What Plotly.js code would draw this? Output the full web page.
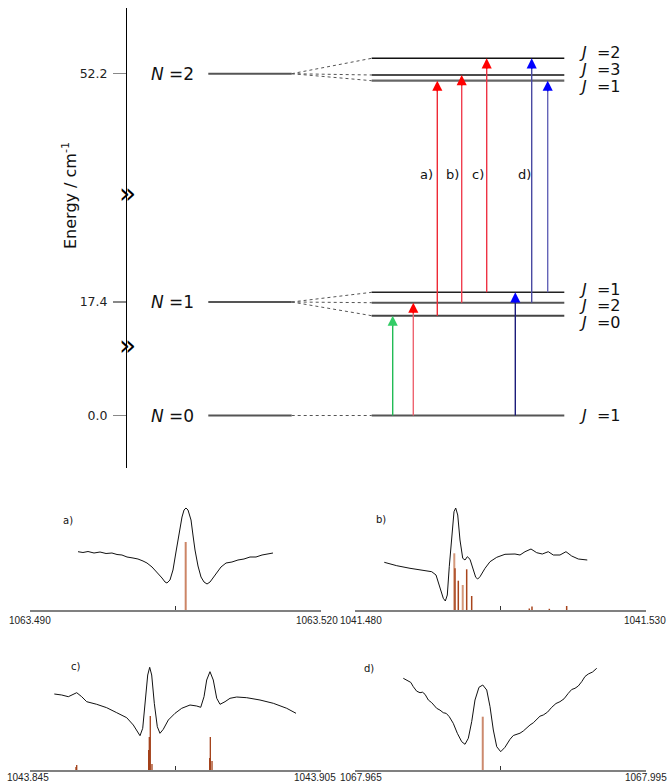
<!DOCTYPE html>
<html><head><meta charset="utf-8">
<script src="https://cdn.plot.ly/plotly-3.0.1.min.js"></script>
<style>html,body{margin:0;padding:0;background:#fff}#chart{width:667px;height:783px}</style>
</head><body><div id="chart"></div>
<script>
// ================= DATA =================
// Rotational levels (energy axis is broken, so levels sit at schematic positions)
const mainN      = [0, 1, 2];
const mainEnergy = [0.0, 17.4, 52.2];          // cm^-1, tick labels
const mainPos    = [0, 113.5, 341.8];          // position on broken axis
// fine-structure sublevels
const subParent  = [2, 2, 2, 1, 1, 1, 0];
const subJ       = [2, 3, 1, 1, 2, 0, 1];
const subPos     = [357.2, 340.5, 334.8, 123.2, 112.8, 99.8, 0];
// transitions (index into sublevels)
const transLower = [6, 6, 6, 5, 4, 3, 4, 3];
const transUpper = [5, 4, 3, 2, 1, 0, 0, 2];
const transLabel = ['', '', '', 'a)', 'b)', 'c)', 'd)', ''];

// Spectra (wavenumber / cm^-1, signal arb.)
const specA_x = [1063.49495,1063.49546,1063.49598,1063.49660,1063.49722,1063.49784,1063.49845,1063.49897,1063.49948,1063.50000,1063.50062,1063.50113,1063.50165,1063.50206,1063.50258,1063.50309,1063.50361,1063.50392,1063.50412,1063.50443,1063.50474,1063.50505,1063.50536,1063.50567,1063.50588,1063.50608,1063.50629,1063.50660,1063.50680,1063.50701,1063.50732,1063.50763,1063.50794,1063.50825,1063.50856,1063.50887,1063.50928,1063.50969,1063.51021,1063.51082,1063.51144,1063.51206,1063.51268,1063.51330,1063.51392,1063.51454,1063.51505];
const specA_y = [58.3,57.5,58.5,57,58,56.5,57,55.5,55,53,52,51,49,47,43,38,32,28,27,30,40,58,78,93,100,102,100,90,75,60,44,33,28,26,28,32,38,43,47,48,50,51,53,53,55,56,57];
const stickA_x = [1063.50605];
const stickA_h = [68];

const specB_x = [1041.48503,1041.48717,1041.48945,1041.49174,1041.49318,1041.49392,1041.49461,1041.49517,1041.49552,1041.49586,1041.49620,1041.49662,1041.49701,1041.49730,1041.49765,1041.49804,1041.49851,1041.49890,1041.49930,1041.49976,1041.50022,1041.50074,1041.50108,1041.50148,1041.50234,1041.50320,1041.50435,1041.50577,1041.50749,1041.50835,1041.50921,1041.51024,1041.51122,1041.51218,1041.51321,1041.51407,1041.51522,1041.51625,1041.51723,1041.51837,1041.51991];
const specB_y = [47.7,44.3,41.7,40,38.3,35,23.3,11.7,9,15,43.3,76.7,98.3,102,95,70,51.7,50,53.3,50.7,41.7,32.7,31,33.3,41.7,48.3,52.7,55.7,56,55,58.3,61,57.3,56,58.3,55,55,58.3,54,51,50];
const stickB_x = [1041.49718,1041.49775,1041.49919,1041.50005,1041.50995,1041.51041,1041.51339,1041.51637];
const stickB_h = [41.7,29.3,40.7,14,1.5,3.5,1.2,4];
const stickB2_x = [1041.49706,1041.49851];
const stickB2_h = [56.7,25];

const specC_x = [1043.85001,1043.85154,1043.85290,1043.85380,1043.85463,1043.85566,1043.85669,1043.85875,1043.86081,1043.86288,1043.86494,1043.86630,1043.86712,1043.86768,1043.86824,1043.86877,1043.86927,1043.86968,1043.87009,1043.87063,1043.87125,1043.87180,1043.87248,1043.87352,1043.87490,1043.87628,1043.87799,1043.87937,1043.88020,1043.88088,1043.88143,1043.88211,1043.88279,1043.88350,1043.88418,1043.88521,1043.88624,1043.88762,1043.88968,1043.89242,1043.89517,1043.89793,1043.89985];
const specC_y = [76,75,73.3,75,77.3,73.3,68.3,65.7,62.3,57.3,52.3,45,38.3,34.3,41.7,70,95,102.7,95,66.7,43.3,36.7,40.7,50,56.7,61.7,65,64,62.7,73.3,90,98.3,90,71.7,65.7,68.3,71.7,73,72.3,70,66.7,61.7,56.7];
const stickC_x = [1043.85448,1043.85463,1043.86947,1043.86960,1043.86980,1043.87015,1043.88205,1043.88218,1043.88253];
const stickC_h = [3,5,20,33,54,6,12,33,9];

const specD_x = [1067.96998,1067.97024,1067.97050,1067.97075,1067.97101,1067.97136,1067.97170,1067.97196,1067.97222,1067.97239,1067.97256,1067.97291,1067.97314,1067.97342,1067.97376,1067.97410,1067.97441,1067.97472,1067.97513,1067.97555,1067.97600,1067.97634,1067.97668,1067.97703,1067.97737,1067.97778,1067.97817,1067.97858,1067.97892,1067.97926,1067.97961,1067.98002,1067.98046,1067.98098,1067.98132,1067.98167,1067.98201,1067.98235,1067.98270,1067.98304,1067.98338,1067.98373,1067.98407,1067.98441,1067.98485,1067.98528,1067.98572,1067.98613,1067.98655,1067.98699,1067.98734,1067.98768,1067.98802,1067.98837,1067.98871,1067.98905,1067.98949,1067.98992];
const specD_y = [91.7,90.2,89.3,87.6,83.3,78.8,77.3,77.8,75.7,72.5,70,67.3,64.8,61.7,59.9,57.3,56.6,53.3,46.7,36.7,28.3,25.7,31.7,48.3,70,82.7,85,80,63.3,40,23.3,18.3,22.7,30.7,34.5,35.7,36.8,39,42.5,45,47.2,50.7,53.8,55,57.9,62.7,66.5,68.3,71.2,76.7,80.5,81.7,84,88.3,93.5,96,98,101.7];
const stickD_x = [1067.97817];
const stickD_h = [53.3];

const rangeA = [1063.490, 1063.520];
const rangeB = [1041.480, 1041.530];
const rangeC = [1043.845, 1043.905];
const rangeD = [1067.965, 1067.995];

// ================= LAYOUT / STYLE =================
const W = 667, H = 783;
const FONT = 'DejaVu Sans';
const mainX = [208.3, 291.7];
const subX = [371.7, 564.3];
const subStyle = [
  {c:'#111', w:1.5}, {c:'#111', w:1.5}, {c:'#666', w:2.2},
  {c:'#222', w:1.5}, {c:'#555', w:2}, {c:'#444', w:2}, {c:'#555', w:2}
];
const subLabelY = [363, 346, 329, 126, 110, 93, 0];
const transX = [392.7, 413.3, 515.3, 437.3, 461.7, 486.7, 531.7, 547.7];
const transLine = ['#22bb55', '#ee6470', '#1c1c7a', '#ee2a35', '#f04050', '#ee3344', '#4a4aa2', '#6565b8'];
const transHead = ['#33cc66', '#ff0000', '#0000ff', '#ff0000', '#ff0000', '#ff0000', '#0000ff', '#0000ff'];
const labelX = {'a)': 426.5, 'b)': 452, 'c)': 477.5, 'd)': 524};
const labelY = 240.5;

const traces = [];
const annotations = [];

// main levels + fan-out
mainN.forEach((n, i) => {
  traces.push({x: mainX, y: [mainPos[i], mainPos[i]], mode: 'lines', line: {color: '#555', width: 2}, xaxis: 'x', yaxis: 'y', hoverinfo: 'skip'});
  annotations.push({x: 172, y: mainPos[i], xref: 'x', yref: 'y', text: '<i>N</i> =' + n, showarrow: false, font: {family: FONT, size: 17, color: '#111'}});
});
subPos.forEach((p, k) => {
  const par = subParent[k];
  traces.push({x: [mainX[1], subX[0]], y: [mainPos[par], p], mode: 'lines', line: {color: '#555', width: 1, dash: 'dot'}, xaxis: 'x', yaxis: 'y', hoverinfo: 'skip'});
  traces.push({x: subX, y: [p, p], mode: 'lines', line: {color: subStyle[k].c, width: subStyle[k].w}, xaxis: 'x', yaxis: 'y', hoverinfo: 'skip'});
  annotations.push({x: 577, y: subLabelY[k], xref: 'x', yref: 'y', xanchor: 'left', text: '<i>J</i>\u00a0\u00a0=' + subJ[k], showarrow: false, font: {family: FONT, size: 16, color: '#111'}});
});
// transitions
transLower.forEach((lo, t) => {
  const y0 = subPos[lo], y1 = subPos[transUpper[t]];
  const x = transX[t];
  traces.push({x: [x, x], y: [y0, y1 - 6], mode: 'lines', line: {color: transLine[t], width: 1.4}, xaxis: 'x', yaxis: 'y', hoverinfo: 'skip'});
  annotations.push({x: x, y: y1, ax: x, ay: y1 - 12, xref: 'x', yref: 'y', axref: 'x', ayref: 'y', text: '', showarrow: true, arrowhead: 2, arrowsize: 1.35, arrowwidth: 1.5, arrowcolor: transHead[t]});
  if (transLabel[t]) annotations.push({x: labelX[transLabel[t]], y: labelY, xref: 'x', yref: 'y', text: transLabel[t], showarrow: false, font: {family: FONT, size: 13, color: '#111'}});
});
// axis title and break marks
annotations.push({x: 70, y: 219.5, xref: 'x', yref: 'y', text: 'Energy / cm<sup>-1</sup>', textangle: -90, showarrow: false, font: {family: FONT, size: 16, color: '#111'}});
[222.2, 69.8].forEach(yb => annotations.push({x: 127, y: yb, xref: 'x', yref: 'y', text: '\u00bb', showarrow: false, font: {family: FONT, size: 28, color: '#000'}}));

// spectra
function sticks(xs, hs) {
  const x = [], y = [];
  xs.forEach((v, i) => { x.push(v, v, null); y.push(0, hs[i], null); });
  return {x, y};
}
const panels = [
  {ax: '2', sx: specA_x, sy: specA_y, st: [[stickA_x, stickA_h, '#cc8566', 2]], range: rangeA, label: 'a)', lx: 61, ly: 520, shift: [0, -4.5], dy: -10},
  {ax: '3', sx: specB_x, sy: specB_y, st: [[stickB2_x, stickB2_h, '#d4987a', 2], [stickB_x, stickB_h, '#a8441c', 1.5]], range: rangeB, label: 'b)', lx: 381, ly: 519.5, shift: [6, -1], dy: -10},
  {ax: '4', sx: specC_x, sy: specC_y, st: [[stickC_x, stickC_h, '#a23e16', 1.3]], range: rangeC, label: 'c)', lx: 69, ly: 674, shift: [-2, -6], dy: -7.5},
  {ax: '5', sx: specD_x, sy: specD_y, st: [[stickD_x, stickD_h, '#cc8a6e', 2]], range: rangeD, label: 'd)', lx: 369, ly: 676, shift: [6, 0], dy: -7.5}
];
panels.forEach(p => {
  p.st.forEach(s => {
    const d = sticks(s[0], s[1]);
    traces.push({x: d.x, y: d.y, mode: 'lines', line: {color: s[2], width: s[3]}, xaxis: 'x' + p.ax, yaxis: 'y' + p.ax, hoverinfo: 'skip', connectgaps: false});
  });
  traces.push({x: p.sx, y: p.sy, mode: 'lines', line: {color: '#111', width: 1}, xaxis: 'x' + p.ax, yaxis: 'y' + p.ax, hoverinfo: 'skip'});
  annotations.push({x: p.lx / W, y: 1 - p.ly / H, xref: 'paper', yref: 'paper', text: p.label, showarrow: false, font: {family: FONT, size: 10, color: '#111'}});
  // end tick labels of the wavenumber axis
  p.range.forEach((v, j) => {
    annotations.push({x: v, xref: 'x' + p.ax, y: 0, yref: 'y' + p.ax, xshift: p.shift[j], yshift: p.dy, yanchor: 'middle', text: v.toFixed(3), showarrow: false,
      font: {family: 'Liberation Sans', size: 10, color: '#222'}});
  });
});

function specX(dom, anchor, range) {
  const mid = (range[0] + range[1]) / 2;
  return {domain: dom, anchor: anchor, range: range, tickvals: [range[0], mid, range[1]], showticklabels: false,
    showline: true, linecolor: '#808080', linewidth: 1.5,
    ticks: 'inside', ticklen: 4, tickwidth: 1, tickcolor: '#333', showgrid: false, zeroline: false, fixedrange: true};
}
function specY(top, bottom) {
  return {domain: [1 - bottom / H, 1 - top / H], range: [0, 105], visible: false, fixedrange: true};
}
const domL = [30 / W, 321 / W], domR = [355 / W, 646 / W];

const layout = {
  width: W, height: H, margin: {l: 0, r: 0, t: 0, b: 0}, paper_bgcolor: '#fff', plot_bgcolor: 'rgba(0,0,0,0)',
  showlegend: false, font: {family: FONT, color: '#111'},
  xaxis: {domain: [0, 1], range: [0, W], visible: false, fixedrange: true},
  yaxis: {domain: [1 - 468 / H, 1 - 7.5 / H], range: [-52.5, 408], anchor: 'free', position: 126 / W,
    showline: true, linecolor: '#000', linewidth: 1, ticks: 'outside', ticklen: 13, tickwidth: 1.5, tickcolor: '#888',
    tickvals: mainPos, ticktext: mainEnergy.map(v => v.toFixed(1)), tickfont: {family: FONT, size: 12.5, color: '#222'},
    ticklabelstandoff: 3, showgrid: false, zeroline: false, fixedrange: true},
  xaxis2: specX(domL, 'y2', rangeA), yaxis2: specY(505, 610),
  xaxis3: specX(domR, 'y3', rangeB), yaxis3: specY(505, 610),
  xaxis4: specX(domL, 'y4', rangeC), yaxis4: specY(665, 770),
  xaxis5: specX(domR, 'y5', rangeD), yaxis5: specY(665, 770),
  annotations: annotations
};
Plotly.newPlot('chart', traces, layout, {displayModeBar: false, staticPlot: true});
</script></body></html>
